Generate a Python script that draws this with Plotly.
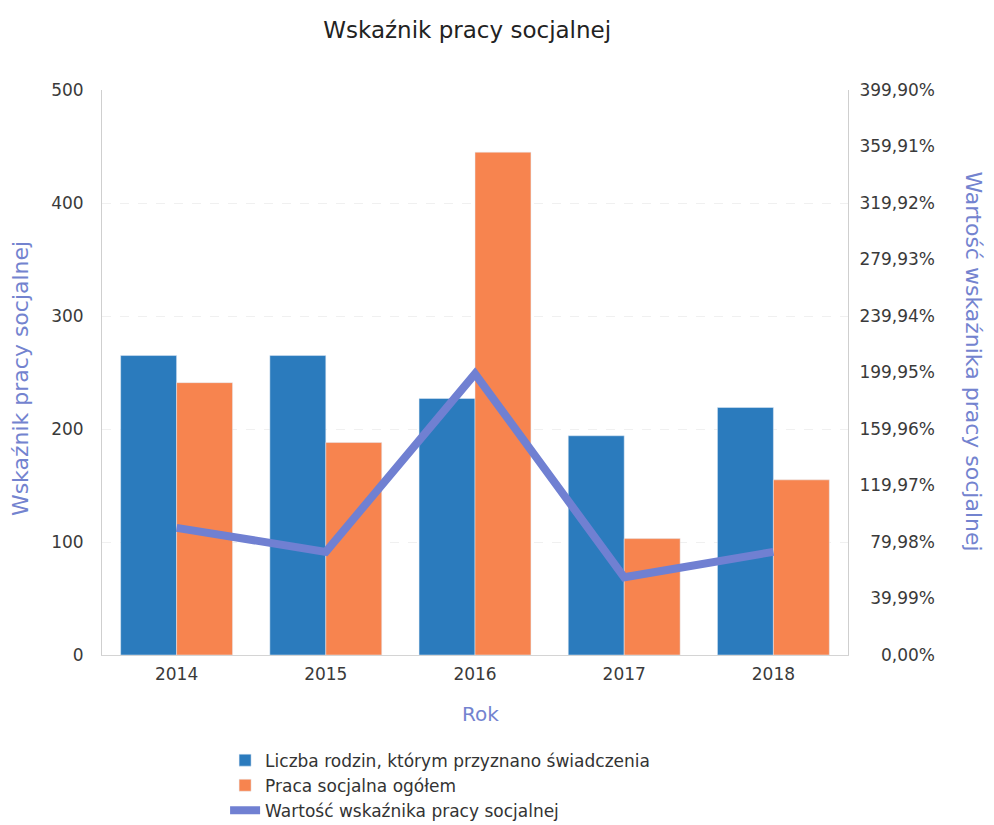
import plotly.graph_objects as go

# Data -
years = ["2014", "2015", "2016", "2017", "2018"]
rodziny = [265, 265, 227, 194, 219]
praca = [241, 188, 445, 103, 155]
wskaznik = [90.0, 73.0, 199.0, 55.0, 73.0]

names = ["Liczba rodzin, którym przyznano świadczenia",
         "Praca socjalna ogółem",
         "Wartość wskaźnika pracy socjalnej"]

y2_step = 39.99
y2_ticks = [round(i * y2_step, 2) for i in range(11)]
y2_text = [(f"{v:.2f}".replace(".", ",") + "%").rjust(7, "\u2007") for v in y2_ticks]

font = "DejaVu Sans, sans-serif"
axis_blue = "#7383cf"

fig = go.Figure()
fig.add_trace(go.Bar(x=years, y=rodziny, name=names[0], marker_color="#2b7bbd"))
fig.add_trace(go.Bar(x=years, y=praca, name=names[1], marker_color="#f7844f"))
fig.add_trace(go.Scatter(x=years, y=wskaznik, name=names[2], yaxis="y2", mode="lines",
                         line=dict(color="#7080d2", width=8)))

# page has an 8px body margin, so everything is placed 8px up/left of the reference
fig.update_layout(
    width=994, height=833,
    paper_bgcolor="white", plot_bgcolor="white",
    font=dict(family=font, size=16, color="#3a3a3a"),
    title=dict(text="Wskaźnik pracy socjalnej", x=0.462, xanchor="center", y=0.9736,
               yanchor="middle", font=dict(size=23, color="#222")),
    margin=dict(l=94, r=154, t=82, b=183),
    barmode="group", bargap=0.25, bargroupgap=0,
    xaxis=dict(showline=True, linecolor="#d4d4d4", ticks="", tickfont=dict(size=17),
               ticklabelstandoff=4, automargin=False),
    yaxis=dict(range=[0, 500], dtick=100, showline=True, linecolor="#cfcfcf",
               showgrid=True, gridcolor="#f0f0f0", griddash="dash", zeroline=False,
               ticks="", tickfont=dict(size=17), ticklabelstandoff=14, automargin=False),
    yaxis2=dict(overlaying="y", side="right", range=[0, 399.9], tickvals=y2_ticks,
                ticktext=y2_text, showgrid=False, zeroline=False, showline=True,
                linecolor="#cfcfcf", ticks="", tickfont=dict(size=17), ticklabelstandoff=7,
                automargin=False),
    legend=dict(orientation="v", x=0.165, xanchor="left", y=-0.155, yanchor="top",
                font=dict(size=17, color="#333"), tracegroupgap=0, itemwidth=30,
                bgcolor="rgba(0,0,0,0)"),
    annotations=[
        dict(text="Wskaźnik pracy socjalnej", xref="paper", yref="paper", x=-0.11, y=0.49,
             xanchor="center", yanchor="middle", textangle=-90, showarrow=False,
             font=dict(size=22, color=axis_blue)),
        dict(text="Wartość wskaźnika pracy socjalnej", xref="paper", yref="paper", x=1.168,
             y=0.519, xanchor="center", yanchor="middle", textangle=90, showarrow=False,
             font=dict(size=22, color=axis_blue)),
        dict(text="Rok", xref="paper", yref="paper", x=0.508, y=-0.104, xanchor="center",
             yanchor="middle", showarrow=False, font=dict(size=20, color=axis_blue)),
    ],
)

fig.write_html("out.html")
